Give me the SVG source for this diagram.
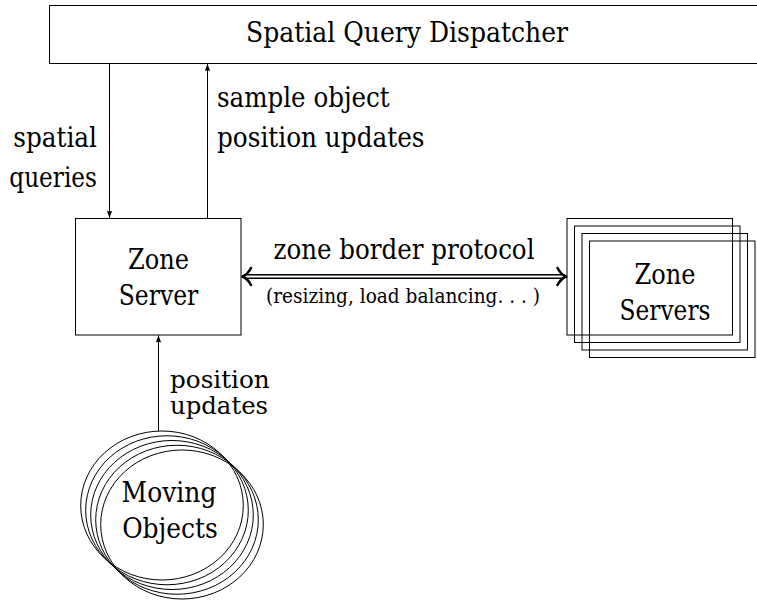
<svg xmlns="http://www.w3.org/2000/svg" width="757" height="600" viewBox="0 0 757 600">
<style>
text{font-family:'DejaVu Serif','Liberation Serif','Times New Roman',serif;font-size:27px;fill:#000}
.small{font-size:21px}
.tight{font-size:24px}
.box{fill:none;stroke:#000;stroke-width:1}
.edge{fill:none;stroke:#000;stroke-width:1}
.dbl{fill:none;stroke:#000;stroke-width:1.4}
.chev{fill:none;stroke:#000;stroke-width:2.6;stroke-linecap:round;stroke-linejoin:round}
</style>
<defs>
<marker id="ah" markerUnits="userSpaceOnUse" markerWidth="12" markerHeight="10" refX="0" refY="0" viewBox="-8 -5 9 10" orient="auto" overflow="visible">
<path d="M0,0 L-7.5,-2.7 Q-5.5,0 -7.5,2.7 Z" fill="#000"/>
</marker>
</defs>
<rect width="757" height="600" fill="#fff"/>
<g id="dispatcher">
<rect class="box" x="49.5" y="5.5" width="760" height="58"/>
<text x="407" y="42" text-anchor="middle" textLength="322" lengthAdjust="spacingAndGlyphs">Spatial Query Dispatcher</text>
</g>
<g id="zone-server">
<rect class="box" x="75.5" y="218.5" width="165.5" height="116.5"/>
<text x="158.5" y="269" text-anchor="middle" textLength="61" lengthAdjust="spacingAndGlyphs">Zone</text>
<text x="158.5" y="305" text-anchor="middle" textLength="79.6" lengthAdjust="spacingAndGlyphs">Server</text>
</g>
<g id="zone-servers">
<rect class="box" x="589.5" y="241" width="165.5" height="116.5"/>
<rect class="box" x="582" y="233.5" width="165.5" height="116.5"/>
<rect class="box" x="574.5" y="226" width="165.5" height="116.5"/>
<rect class="box" x="567" y="218.5" width="165.5" height="116.5"/>
<text x="665" y="284" text-anchor="middle" textLength="61" lengthAdjust="spacingAndGlyphs">Zone</text>
<text x="665" y="320" text-anchor="middle" textLength="91" lengthAdjust="spacingAndGlyphs">Servers</text>
</g>
<g id="moving-objects">
<ellipse class="box" cx="162" cy="505.5" rx="81.3" ry="74.5"/>
<ellipse class="box" cx="167" cy="510.25" rx="81.3" ry="74.5"/>
<ellipse class="box" cx="172" cy="515" rx="81.3" ry="74.5"/>
<ellipse class="box" cx="177" cy="519.75" rx="81.3" ry="74.5"/>
<ellipse class="box" cx="182" cy="524.5" rx="81.3" ry="74.5"/>
<text x="169" y="502" text-anchor="middle" textLength="94.8" lengthAdjust="spacingAndGlyphs">Moving</text>
<text x="170" y="538" text-anchor="middle" textLength="95.7" lengthAdjust="spacingAndGlyphs">Objects</text>
</g>
<g id="connectors">
<path class="edge" d="M109.5,63.5 V218" marker-end="url(#ah)"/>
<path class="edge" d="M207.5,218.5 V63.8" marker-end="url(#ah)"/>
<path class="edge" d="M158.5,431 V335.3" marker-end="url(#ah)"/>
<text x="97" y="147" text-anchor="end" textLength="83.7" lengthAdjust="spacingAndGlyphs">spatial</text>
<text x="97" y="187" text-anchor="end" textLength="87.7" lengthAdjust="spacingAndGlyphs">queries</text>
<text x="217" y="107" textLength="172.7" lengthAdjust="spacingAndGlyphs">sample object</text>
<text x="217" y="147" textLength="207.5" lengthAdjust="spacingAndGlyphs">position updates</text>
<text class="tight" x="170" y="388" textLength="99.7" lengthAdjust="spacingAndGlyphs">position</text>
<text class="tight" x="170" y="414" textLength="98.1" lengthAdjust="spacingAndGlyphs">updates</text>
<line class="dbl" x1="244" y1="274.8" x2="564.5" y2="274.8"/>
<line class="dbl" x1="244" y1="278.2" x2="564.5" y2="278.2"/>
<path class="chev" d="M251,268 Q247.5,274.5 242.5,276.5 Q247.5,278.5 251,285"/>
<path class="chev" d="M557.5,268 Q561,274.5 566,276.5 Q561,278.5 557.5,285"/>
<text x="404" y="259" text-anchor="middle" textLength="261" lengthAdjust="spacingAndGlyphs">zone border protocol</text>
<text class="small" x="403" y="303" text-anchor="middle" textLength="274" lengthAdjust="spacingAndGlyphs">(resizing, load balancing. . . )</text>
</g>
</svg>
